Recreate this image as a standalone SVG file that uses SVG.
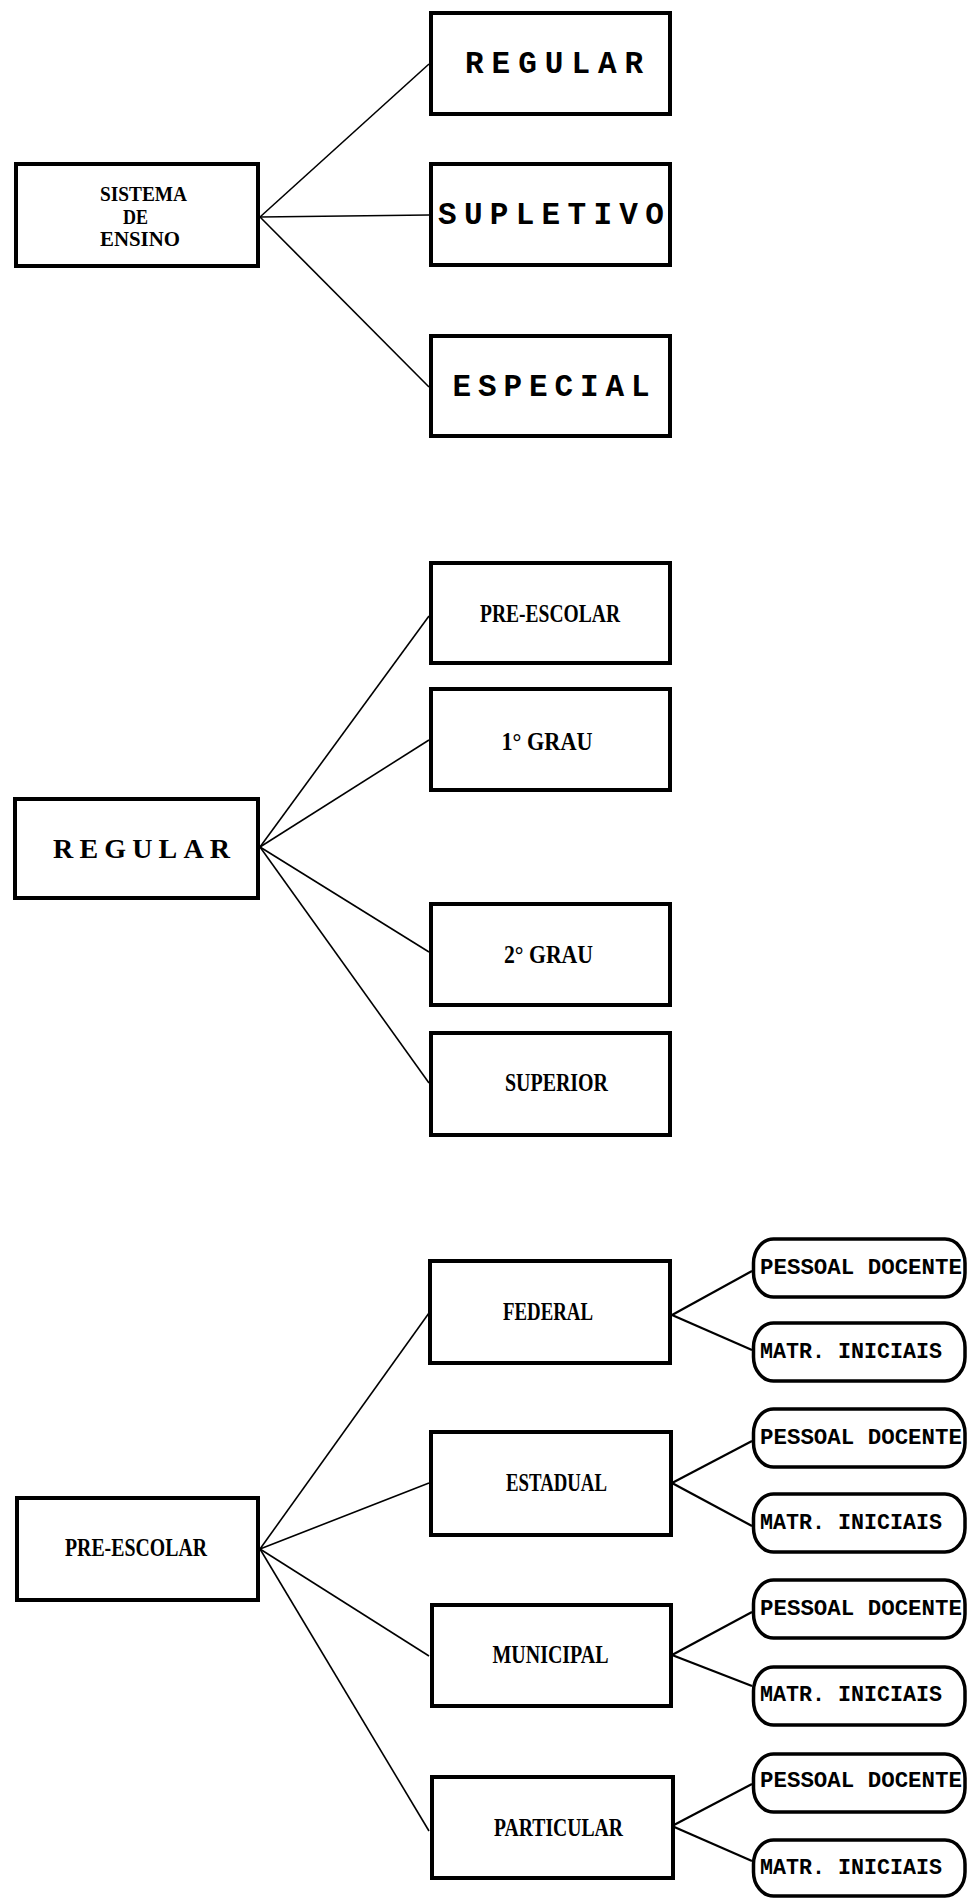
<svg xmlns="http://www.w3.org/2000/svg" width="969" height="1899" viewBox="0 0 969 1899">
<style>
.box{fill:#fff;stroke:#000;stroke-width:4}
.pill{fill:#fff;stroke:#000;stroke-width:3.5}
.ln{stroke:#000;stroke-width:1.6;fill:none}
.lp{stroke:#000;stroke-width:2.2;fill:none}
.sp{font-family:"Liberation Mono","DejaVu Sans Mono",monospace;font-weight:bold;font-size:31px;fill:#000}
.cd{font-family:"Liberation Serif","DejaVu Serif",serif;font-weight:bold;font-size:26px;fill:#000}
.sm{font-size:20px}
.big{font-size:28px}
.pt{font-family:"Liberation Mono","DejaVu Sans Mono",monospace;font-weight:bold;font-size:22px;fill:#000}
</style>
<rect width="969" height="1899" fill="#fff"/>
<g id="connectors">
<line class="ln" x1="260" y1="217" x2="429" y2="64"/>
<line class="ln" x1="260" y1="217" x2="429" y2="215"/>
<line class="ln" x1="260" y1="217" x2="429" y2="387"/>
<line class="ln" x1="260" y1="847" x2="429" y2="616"/>
<line class="ln" x1="260" y1="847" x2="429" y2="740"/>
<line class="ln" x1="260" y1="847" x2="429" y2="952"/>
<line class="ln" x1="260" y1="847" x2="429" y2="1083"/>
<line class="ln" x1="260" y1="1549" x2="429" y2="1313"/>
<line class="ln" x1="260" y1="1549" x2="429" y2="1483"/>
<line class="ln" x1="260" y1="1549" x2="429" y2="1656"/>
<line class="ln" x1="260" y1="1549" x2="429" y2="1831"/>
<line class="lp" x1="672" y1="1315" x2="752" y2="1271"/>
<line class="lp" x1="672" y1="1315" x2="752" y2="1350"/>
<line class="lp" x1="672" y1="1483" x2="752" y2="1441"/>
<line class="lp" x1="672" y1="1483" x2="752" y2="1526"/>
<line class="lp" x1="672" y1="1655" x2="752" y2="1612"/>
<line class="lp" x1="672" y1="1655" x2="752" y2="1686"/>
<line class="lp" x1="672" y1="1826" x2="752" y2="1784"/>
<line class="lp" x1="672" y1="1826" x2="752" y2="1861"/>
</g>
<g id="n-sistema">
<rect class="box" x="16" y="164" width="242" height="102"/>
<text class="cd sm" x="100" y="201" textLength="87" lengthAdjust="spacingAndGlyphs">SISTEMA</text>
<text class="cd sm" x="123" y="223.5" textLength="25" lengthAdjust="spacingAndGlyphs">DE</text>
<text class="cd sm" x="100" y="246" textLength="80" lengthAdjust="spacingAndGlyphs">ENSINO</text>
</g>
<g id="n-regular-1">
<rect class="box" x="431" y="13" width="239" height="101"/>
<text class="sp" x="465" y="72.5" letter-spacing="8">REGULAR</text>
</g>
<g id="n-supletivo">
<rect class="box" x="431" y="164" width="239" height="101"/>
<text class="sp" x="438" y="224" letter-spacing="7.3">SUPLETIVO</text>
</g>
<g id="n-especial">
<rect class="box" x="431" y="336" width="239" height="100"/>
<text class="sp" x="452.5" y="396" letter-spacing="6.9">ESPECIAL</text>
</g>
<g id="n-regular-2">
<rect class="box" x="15" y="799" width="243" height="99"/>
<text class="cd big" x="53" y="858" textLength="177" lengthAdjust="spacing">REGULAR</text>
</g>
<g id="n-preescolar-2">
<rect class="box" x="431" y="563" width="239" height="100"/>
<text class="cd" x="480" y="621.5" textLength="140" lengthAdjust="spacingAndGlyphs">PRE-ESCOLAR</text>
</g>
<g id="n-1grau">
<rect class="box" x="431" y="689" width="239" height="101"/>
<text class="cd" x="501.5" y="750" textLength="91" lengthAdjust="spacingAndGlyphs">1° GRAU</text>
</g>
<g id="n-2grau">
<rect class="box" x="431" y="904" width="239" height="101"/>
<text class="cd" x="504" y="963" textLength="89" lengthAdjust="spacingAndGlyphs">2° GRAU</text>
</g>
<g id="n-superior">
<rect class="box" x="431" y="1033" width="239" height="102"/>
<text class="cd" x="505" y="1091" textLength="103" lengthAdjust="spacingAndGlyphs">SUPERIOR</text>
</g>
<g id="n-preescolar-3">
<rect class="box" x="17" y="1498" width="241" height="102"/>
<text class="cd" x="65" y="1556" textLength="142" lengthAdjust="spacingAndGlyphs">PRE-ESCOLAR</text>
</g>
<g id="n-federal">
<rect class="box" x="430" y="1261" width="240" height="102"/>
<text class="cd" x="503" y="1320" textLength="90" lengthAdjust="spacingAndGlyphs">FEDERAL</text>
</g>
<g id="n-estadual">
<rect class="box" x="431" y="1432" width="240" height="103"/>
<text class="cd" x="506" y="1490.5" textLength="101" lengthAdjust="spacingAndGlyphs">ESTADUAL</text>
</g>
<g id="n-municipal">
<rect class="box" x="432" y="1605" width="239" height="101"/>
<text class="cd" x="492.5" y="1663" textLength="116" lengthAdjust="spacingAndGlyphs">MUNICIPAL</text>
</g>
<g id="n-particular">
<rect class="box" x="432" y="1777" width="241" height="101"/>
<text class="cd" x="494" y="1836" textLength="129" lengthAdjust="spacingAndGlyphs">PARTICULAR</text>
</g>
<g id="p-federal-docente">
<rect class="pill" x="753.5" y="1239" width="211.5" height="58" rx="20" ry="24"/>
<text class="pt" x="760" y="1274" textLength="202" lengthAdjust="spacingAndGlyphs">PESSOAL DOCENTE</text>
</g>
<g id="p-federal-matr">
<rect class="pill" x="753.5" y="1323" width="211.5" height="58" rx="20" ry="24"/>
<text class="pt" x="760" y="1358" textLength="182" lengthAdjust="spacingAndGlyphs">MATR. INICIAIS</text>
</g>
<g id="p-estadual-docente">
<rect class="pill" x="753.5" y="1409" width="211.5" height="58" rx="20" ry="24"/>
<text class="pt" x="760" y="1444" textLength="202" lengthAdjust="spacingAndGlyphs">PESSOAL DOCENTE</text>
</g>
<g id="p-estadual-matr">
<rect class="pill" x="753.5" y="1494" width="211.5" height="58" rx="20" ry="24"/>
<text class="pt" x="760" y="1529" textLength="182" lengthAdjust="spacingAndGlyphs">MATR. INICIAIS</text>
</g>
<g id="p-municipal-docente">
<rect class="pill" x="753.5" y="1580" width="211.5" height="58" rx="20" ry="24"/>
<text class="pt" x="760" y="1615" textLength="202" lengthAdjust="spacingAndGlyphs">PESSOAL DOCENTE</text>
</g>
<g id="p-municipal-matr">
<rect class="pill" x="753.5" y="1667" width="211.5" height="58" rx="20" ry="24"/>
<text class="pt" x="760" y="1701" textLength="182" lengthAdjust="spacingAndGlyphs">MATR. INICIAIS</text>
</g>
<g id="p-particular-docente">
<rect class="pill" x="753.5" y="1754" width="211.5" height="58" rx="20" ry="24"/>
<text class="pt" x="760" y="1787" textLength="202" lengthAdjust="spacingAndGlyphs">PESSOAL DOCENTE</text>
</g>
<g id="p-particular-matr">
<rect class="pill" x="753.5" y="1840" width="211.5" height="56" rx="20" ry="24"/>
<text class="pt" x="760" y="1874" textLength="182" lengthAdjust="spacingAndGlyphs">MATR. INICIAIS</text>
</g>
</svg>
